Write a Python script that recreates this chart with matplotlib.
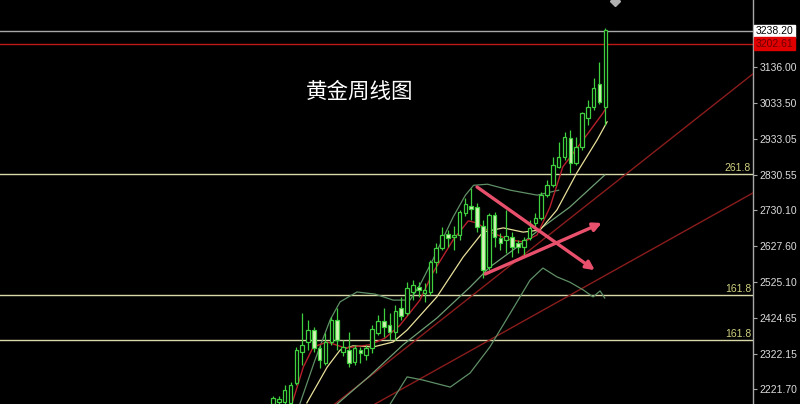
import matplotlib
matplotlib.use("Agg")
import matplotlib.pyplot as plt
import numpy as np

plt.rcParams['font.family'] = ['Noto Sans CJK SC', 'DejaVu Sans']

# ---- candle data (weekly gold) ----
opens  = [2180, 2186, 2186, 2183, 2240, 2328, 2356, 2390, 2339, 2296,
          2356, 2419, 2328, 2333, 2299, 2333, 2319, 2339, 2382, 2416,
          2404, 2385, 2453, 2438, 2498, 2512, 2495, 2498, 2583, 2623,
          2663, 2654, 2660, 2722, 2742, 2739, 2685, 2569, 2717, 2651,
          2646, 2654, 2637, 2626, 2651, 2694, 2708, 2773, 2802, 2853,
          2881, 2935, 2864, 2910, 2992, 3023, 3089, 3023]
highs  = [2203, 2203, 2234, 2243, 2342, 2438, 2419, 2399, 2348, 2382,
          2427, 2453, 2362, 2385, 2348, 2342, 2348, 2404, 2433, 2453,
          2438, 2461, 2484, 2526, 2532, 2526, 2524, 2589, 2637, 2683,
          2674, 2685, 2731, 2765, 2793, 2751, 2702, 2722, 2725, 2666,
          2731, 2668, 2646, 2654, 2702, 2722, 2782, 2816, 2881, 2924,
          2952, 2958, 2938, 3009, 3043, 3106, 3151, 3248]
lows   = [2174, 2180, 2180, 2177, 2234, 2291, 2333, 2328, 2282, 2291,
          2348, 2333, 2316, 2285, 2291, 2296, 2305, 2325, 2376, 2370,
          2362, 2362, 2419, 2433, 2475, 2484, 2470, 2490, 2552, 2617,
          2626, 2617, 2646, 2714, 2702, 2668, 2538, 2561, 2626, 2617,
          2609, 2597, 2609, 2597, 2646, 2683, 2702, 2768, 2796, 2850,
          2873, 2836, 2859, 2901, 2972, 3015, 3032, 2972]
closes = [2197, 2194, 2220, 2234, 2333, 2348, 2390, 2339, 2305, 2356,
          2419, 2362, 2342, 2296, 2339, 2325, 2339, 2393, 2416, 2399,
          2385, 2444, 2430, 2509, 2518, 2504, 2504, 2583, 2623, 2660,
          2651, 2660, 2725, 2748, 2734, 2683, 2561, 2717, 2654, 2637,
          2657, 2626, 2626, 2646, 2680, 2708, 2773, 2802, 2859, 2881,
          2938, 2864, 2910, 3006, 3023, 3077, 3037, 3242]

# ---- indicator lines (bar index, price) ----
ma_red_x = [3.3, 5.2, 6.9, 9.3, 12.4, 16.6, 19.2, 21.8, 25.2, 27.4, 30.9, 33.5,
            35.0, 37.2, 40.7, 43.0, 45.3, 47.5, 49.7, 53.2, 56.6, 57.1]
ma_red_y = [2183, 2285, 2342, 2356, 2339, 2348, 2367, 2404, 2475, 2552, 2646, 2700,
            2694, 2668, 2646, 2640, 2660, 2739, 2853, 2930, 3006, 3020]
ma_yel_x = [5.8, 9.3, 11.5, 13.7, 17.2, 20.6, 23.0, 28.1, 32.6, 36.0, 39.5, 42.9,
            45.8, 48.7, 52.1, 55.6, 57.3]
ma_yel_y = [2183, 2285, 2333, 2345, 2342, 2356, 2390, 2484, 2597, 2668, 2680, 2668,
            2674, 2731, 2836, 2930, 2981]
ma_grn_x = [11.0, 16.6, 22.3, 28.1, 33.8, 37.2, 41.9, 46.3, 50.9, 56.9]
ma_grn_y = [2180, 2260, 2348, 2424, 2512, 2569, 2626, 2683, 2739, 2830]
band_up_x = [4.6, 7.2, 9.8, 11.5, 14.4, 17.5, 20.6, 23.5, 25.2, 27.4, 30.9, 33.0,
             34.4, 36.8, 40.7, 45.3, 49.0]
band_up_y = [2180, 2305, 2419, 2470, 2498, 2492, 2475, 2475, 2518, 2589, 2711, 2773,
             2801, 2804, 2787, 2773, 2787]
band_lo_x = [20.1, 23.0, 25.7, 30.4, 33.8, 37.2, 40.7, 44.1, 46.3, 48.7, 50.9, 53.2,
             54.9, 56.1, 56.9]
band_lo_y = [2180, 2257, 2248, 2228, 2268, 2342, 2438, 2532, 2566, 2541, 2526, 2504,
             2484, 2501, 2481]

# trend lines (start / end)
trend1 = [(10.6, 2180), (82.3, 3117)]
trend2 = [(17.5, 2180), (82.3, 2779)]

# arrows (start -> end)
arrow_down = [(35.0, 2796), (55.2, 2560)]
arrow_up = [(36.4, 2549), (56.4, 2694)]

# horizontal levels
level_last = 3238.20
level_red = 3202.61
fib_levels = [2833, 2489.5, 2361.7]
fib_labels = ["261.8", "161.8", "161.8"]

yticks = [2221.70, 2322.15, 2424.65, 2525.10, 2627.60, 2730.10, 2830.55, 2933.05, 3033.50, 3136.00]
ytick_labels = ["2221.70", "2322.15", "2424.65", "2525.10", "2627.60", "2730.10",
                "2830.55", "2933.05", "3033.50", "3136.00"]

title = "黄金周线图"

NUM_FONT = ['Liberation Sans', 'DejaVu Sans']

# ---- figure ----
fig = plt.figure(figsize=(8, 4.04), dpi=100, facecolor='black')
ax = fig.add_axes([0, 0, 753 / 800, 1])
ax.set_facecolor('black')
ax.set_xlim(-46.83, 82.33)
ax.set_ylim(2180, 3327)

# horizontal lines
ax.axhline(level_last, color='#a8a8a8', lw=1.0, zorder=2)
ax.axhline(level_red, color='#c01818', lw=1.0, zorder=2)
for lv, lb in zip(fib_levels, fib_labels):
    ax.axhline(lv, color='#d8d8a8', lw=1.0, zorder=2)
    ax.text(82.0, lv + 2, lb, color='#d0d080', fontsize=7.5, ha='right', va='bottom',
            family=NUM_FONT, zorder=3)

# trend lines
for tl in (trend1, trend2):
    ax.plot([tl[0][0], tl[1][0]], [tl[0][1], tl[1][1]], color='#8a1c1c', lw=1.0, zorder=3)

# indicator lines
ax.plot(band_up_x, band_up_y, color='#5f8f66', lw=0.9, zorder=3)
ax.plot(band_lo_x, band_lo_y, color='#5f8f66', lw=0.9, zorder=3)
ax.plot(ma_grn_x, ma_grn_y, color='#6f9f74', lw=0.9, zorder=3)
ax.plot(ma_yel_x, ma_yel_y, color='#e8e09a', lw=0.9, zorder=4)
ax.plot(ma_red_x, ma_red_y, color='#b8202c', lw=1.0, zorder=4)

# candles
idx = np.arange(len(opens))
o = np.array(opens, dtype=float)
c = np.array(closes, dtype=float)
h = np.array(highs, dtype=float)
l = np.array(lows, dtype=float)
up = c >= o
ax.vlines(idx, l, h, color='#3fcf3f', lw=0.9, zorder=5)
body_bottom = np.minimum(o, c)
body_height = np.maximum(np.abs(c - o), 2.0)
ax.bar(idx[up], body_height[up], bottom=body_bottom[up], width=0.62,
       facecolor='black', edgecolor='#3fcf3f', linewidth=0.9, zorder=6)
ax.bar(idx[~up], body_height[~up], bottom=body_bottom[~up], width=0.62,
       facecolor='#d6f5b8', edgecolor='#3fcf3f', linewidth=0.9, zorder=6)

# arrows
for (s, e) in (arrow_down, arrow_up):
    ax.annotate('', xy=e, xytext=s,
                arrowprops=dict(arrowstyle='-|>,head_length=0.5,head_width=0.25',
                                color='#e8506c', lw=2.4, shrinkA=0, shrinkB=0),
                zorder=7)

# small marker at the top
ax.plot([58.7], [3324], marker='D', color='#b0b0b0', markersize=5, zorder=7, clip_on=False)

# title
ax.text(14.8, 3067, title, color='white', fontsize=15.5, ha='center', va='center', zorder=8)

# right axis
for s in ['top', 'bottom', 'left']:
    ax.spines[s].set_visible(False)
ax.spines['right'].set_color('#a8a8a8')
ax.spines['right'].set_linewidth(1.0)
ax.set_xticks([])
ax.yaxis.tick_right()
ax.set_yticks(yticks)
ax.set_yticklabels(ytick_labels)
ax.tick_params(axis='y', colors='#a8a8a8', labelcolor='#dcdcdc', labelsize=7.5,
               length=3, width=0.8, pad=1.5)
for lab in ax.get_yticklabels():
    lab.set_family(NUM_FONT)

# price tags
ax.text(1.003, level_last, "3238.20", transform=ax.get_yaxis_transform(),
        color='black', fontsize=7.5, ha='left', va='center', family=NUM_FONT,
        bbox=dict(boxstyle='square,pad=0.15', facecolor='white', edgecolor='white'),
        clip_on=False, zorder=9)
ax.text(1.003, level_red, "3202.61", transform=ax.get_yaxis_transform(),
        color='#700000', fontsize=7.5, ha='left', va='center', family=NUM_FONT,
        bbox=dict(boxstyle='square,pad=0.15', facecolor='#e00000', edgecolor='#e00000'),
        clip_on=False, zorder=9)

fig.savefig('out.png', dpi=100, facecolor='black')
